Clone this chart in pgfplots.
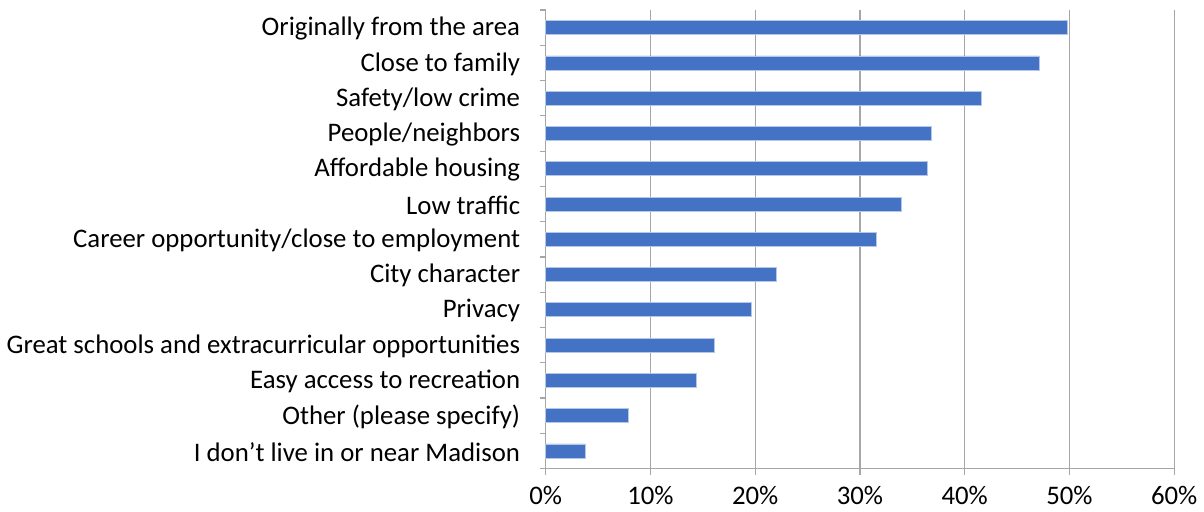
\documentclass[border=0pt]{standalone}
\usepackage{fontspec}
\setmainfont{Carlito}
\usepackage{pgfplots}
\pgfplotsset{compat=1.18}
\definecolor{barblue}{HTML}{4472C4}
\definecolor{baredge}{HTML}{B4C7E7}
\definecolor{gridgray}{HTML}{A6A6A6}
\begin{document}
\begin{tikzpicture}
\begin{axis}[
  at={(0,0)}, anchor=south west,
  scale only axis,
  width=314.5pt, height=229.5pt,
  xbar, bar width=7pt,
  xmin=0, xmax=60,
  ymin=-0.5, ymax=12.5,
  y dir=reverse,
  axis x line*=bottom, axis y line*=left,
  axis line style={gridgray, line width=0.6pt},
  xtick={0,10,...,60},
  xmajorgrids, major grid style={gridgray, line width=0.6pt},
  xticklabel={\pgfmathprintnumber{\tick}\%},
  ytick={-0.5,0.5,...,12.5},
  yticklabels={},
  extra y ticks={0,...,12},
  extra y tick labels={Originally from the area, Close to family, Safety/low crime, People/neighbors, Affordable housing, Low traffic, Career opportunity/close to employment, City character, Privacy, Great schools and extracurricular opportunities, Easy access to recreation, Other (please specify), I don’t live in or near Madison},
  extra y tick style={major tick length=0pt, yticklabel style={xshift=-9.3pt, yshift=-0.5pt}},
  tick align=outside,
  major tick length=3pt,
  tick style={gridgray, line width=0.6pt},
  tick label style={font=\fontsize{13.4}{15}\selectfont, text=black},
  xticklabel style={yshift=-2.5pt},
  /pgf/number format/assume math mode=true,
  clip=false,
]
\addplot[fill=barblue, draw=baredge, line width=0.4pt] coordinates {
(49.8,0) (47.1,1) (41.6,2) (36.8,3) (36.4,4) (34.0,5) (31.6,6) (22.0,7) (19.6,8) (16.1,9) (14.4,10) (7.9,11) (3.8,12)
};
\end{axis}
\path[use as bounding box] (-273pt,-21.5pt) rectangle (329pt,234.5pt);
\end{tikzpicture}
\end{document}
